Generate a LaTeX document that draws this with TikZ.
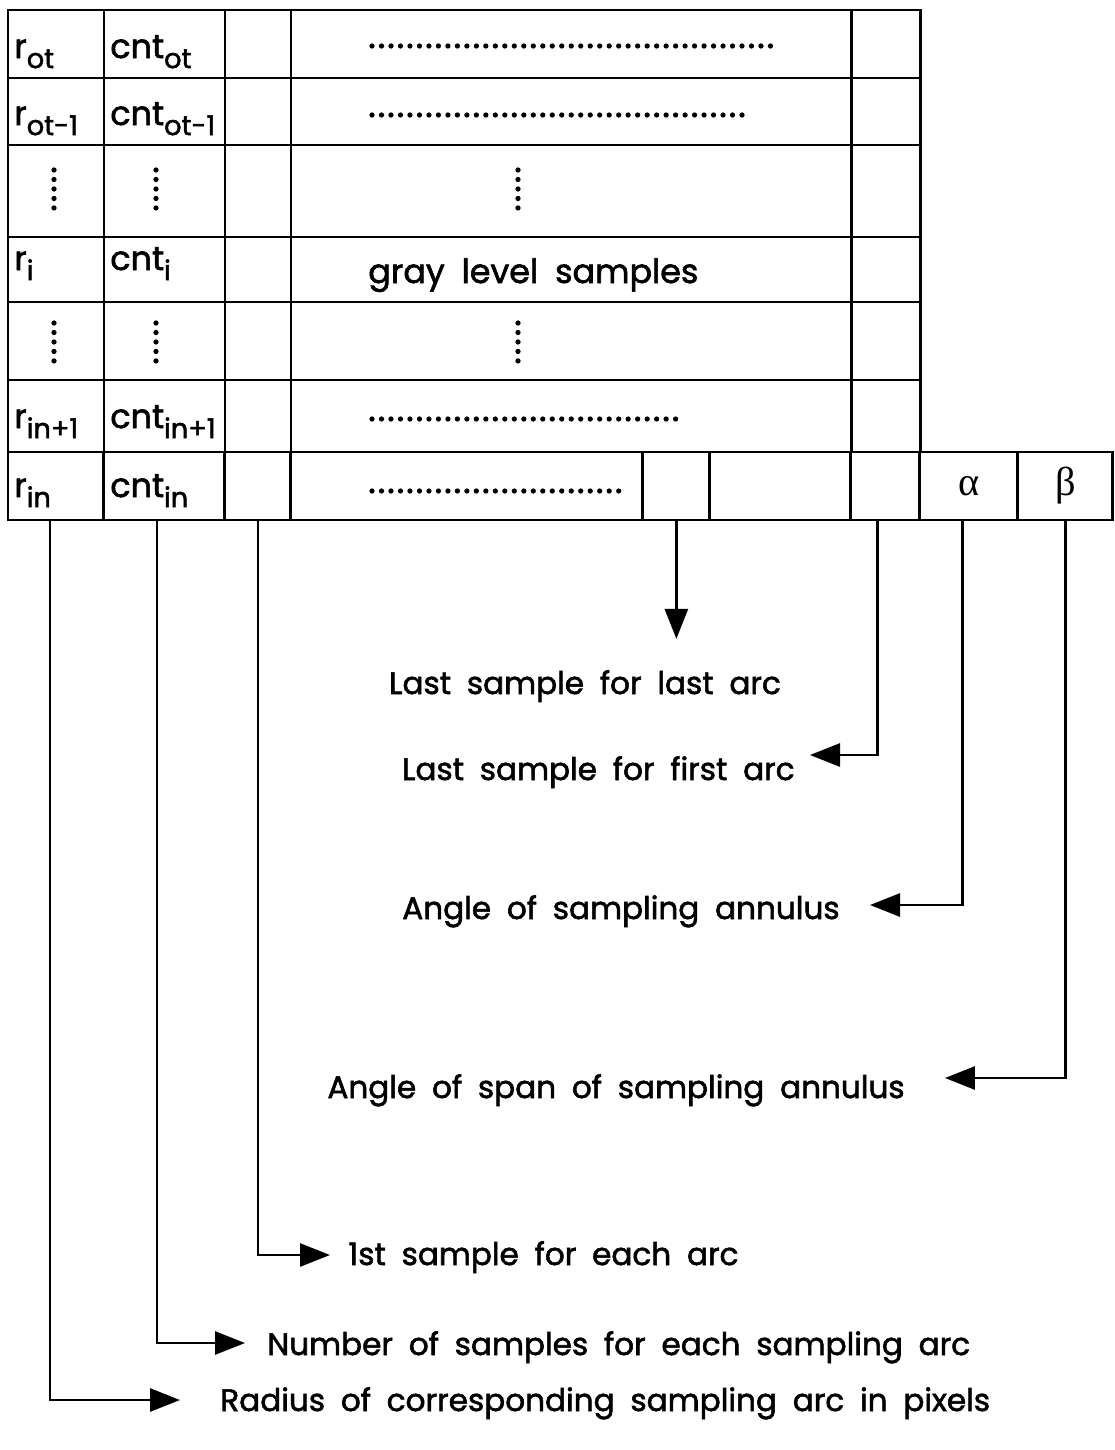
\documentclass[tikz,border=0pt]{standalone}
\usepackage{fontspec}
\setmainfont{Poppins}[WordSpace=1.9, FakeBold=1.8]
\newfontfamily\grk{Liberation Serif}
\usetikzlibrary{arrows.meta,positioning}

\newcommand\lo[1]{\raisebox{-0.55ex}{\fontsize{15.5}{15.5}\selectfont #1}}

\begin{document}
\begin{tikzpicture}[x=0.02cm, y=-0.02cm,
  grid/.style={line width=1.7pt},
  cell/.style={draw, line width=1.7pt, inner sep=0pt, outer sep=0pt,
               minimum height=1.36cm, font=\grk\fontsize{23}{26}\selectfont},
  lab/.style={anchor=base west, inner sep=0pt, font=\fontsize{19}{22}\selectfont},
  desc/.style={anchor=base, inner sep=0pt, font=\fontsize{17.7}{21}\selectfont},
  dotrow/.style={line width=3pt, line cap=round, dash pattern=on 0pt off 5.4pt},
  link/.style={line width=1.6pt, -{Triangle[length=0.6cm, width=0.46cm]}}
]
\useasboundingbox (0,0) rectangle (1115,1450);

% upper rows of the table
\foreach \ya/\yb in {10/78, 78/145, 145/237, 237/302, 302/380, 380/452}
  \foreach \xa/\xb in {8/104, 104/225, 225/291, 291/851, 851/920}
    \draw[grid] (\xa,\ya) rectangle (\xb,\yb);

% bottom row
\node[cell, anchor=north west, minimum width=1.92cm] (rin) at (8,452) {};
\node[cell, right=0pt of rin, minimum width=2.42cm] (cntin) {};
\node[cell, right=0pt of cntin, minimum width=1.32cm] (first) {};
\node[cell, right=0pt of first, minimum width=7.04cm] (samp) {};
\node[cell, right=0pt of samp, minimum width=1.34cm] (lastl) {};
\node[cell, right=0pt of lastl, minimum width=2.82cm] (mid) {};
\node[cell, right=0pt of mid, minimum width=1.38cm] (lastf) {};
\node[cell, right=0pt of lastf, minimum width=1.96cm] (alpha) {α};
\node[cell, right=0pt of alpha, minimum width=1.90cm] (beta) {β};

% row labels
\foreach \y/\s/\n in {58/ot/ot, 125/ot-1/otm, 270/i/i, 428/in+1/inp, 497/in/in} {
  \node[lab] (r-\n) at (14,\y) {r\lo{\s}};
  \node[lab] (cnt-\n) at (110,\y) {cnt\lo{\s}};
}
\node[lab] (gls) at (368,283) {gray level samples};

% dots
\draw[dotrow] (372,46) -- (774,46);
\draw[dotrow] (372,115) -- (743,115);
\draw[dotrow] (372,419) -- (678,419);
\draw[dotrow] (372,491) -- (627,491);
\foreach \x in {54,156,518} {
  \draw[dotrow] (\x,170) -- (\x,213);
  \draw[dotrow] (\x,323) -- (\x,367);
}

% descriptions
\node[desc] (lsla) at (585,694) {Last sample for last arc};
\node[desc, anchor=base east] (lsfa) at (795,780) {Last sample for first arc};
\node[desc, anchor=base east] (ang) at (840,919) {Angle of sampling annulus};
\node[desc, anchor=base east] (span) at (905,1098) {Angle of span of sampling annulus};
\node[desc, anchor=base west] (fst) at (348,1265) {1st sample for each arc};
\node[desc, anchor=base west] (num) at (267,1355) {Number of samples for each sampling arc};
\node[desc, anchor=base west] (rad) at (220,1411) {Radius of corresponding sampling arc in pixels};

% connectors
\draw[link, shorten >=0.62cm] (lastl.south) -- (lastl.south |- lsla.north);
\draw[link] ([xshift=-0.15cm]lastf.south) |- ([xshift=0.3cm, yshift=0.5cm]lsfa.base east);
\draw[link] ([xshift=-0.12cm]alpha.south) |- ([xshift=0.6cm, yshift=0.28cm]ang.base east);
\draw[link] (beta.south) |- ([xshift=0.8cm, yshift=0.4cm]span.base east);
\draw[link] (first.south) |- ([xshift=-0.36cm, yshift=0.2cm]fst.base west);
\draw[link] ([xshift=-0.15cm]cntin.south) |- ([xshift=-0.44cm, yshift=0.24cm]num.base west);
\draw[link] ([xshift=-0.12cm]rin.south) |- ([xshift=-0.8cm, yshift=0.22cm]rad.base west);
\end{tikzpicture}
\end{document}
